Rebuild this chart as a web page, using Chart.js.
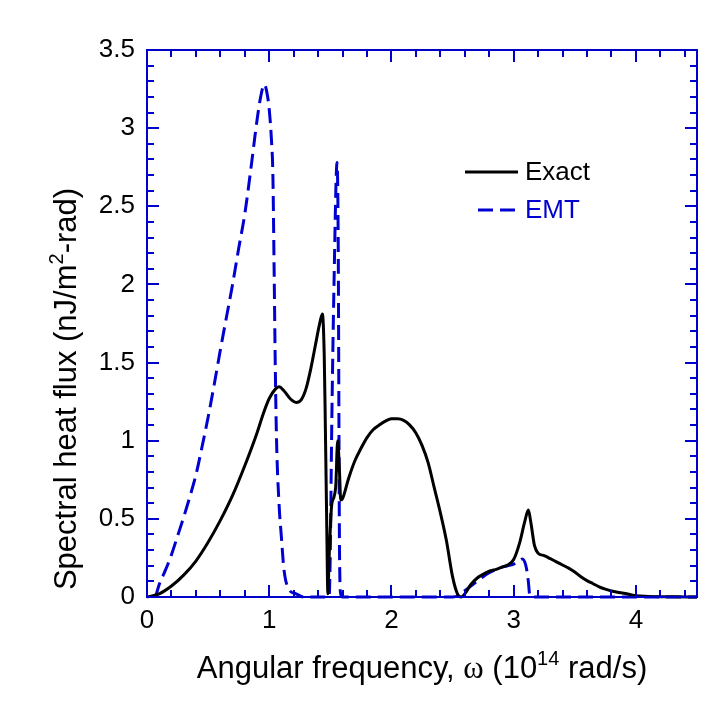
<!DOCTYPE html>
<html>
<head>
<meta charset="utf-8">
<script src="https://cdn.jsdelivr.net/npm/chart.js@4/dist/chart.umd.min.js"></script>
<style>
  html, body { margin: 0; padding: 0; background: #ffffff; }
  #wrap { width: 728px; height: 713px; }
</style>
</head>
<body>
<div id="wrap"><canvas id="c" width="728" height="713"></canvas></div>
<script>
// ---- Data ----
const seriesNames = ["Exact", "EMT"];

const exactX = [0, 0.1, 0.2, 0.3, 0.4, 0.5, 0.6, 0.7, 0.8, 0.9, 0.95, 1.0, 1.05, 1.08, 1.12, 1.17, 1.22, 1.26, 1.30, 1.34, 1.38, 1.41, 1.435, 1.45, 1.46, 1.47, 1.48, 1.49, 1.51, 1.53, 1.545, 1.56, 1.575, 1.585, 1.60, 1.65, 1.70, 1.75, 1.80, 1.85, 1.90, 1.95, 2.0, 2.05, 2.10, 2.15, 2.20, 2.25, 2.30, 2.35, 2.40, 2.45, 2.50, 2.54, 2.57, 2.60, 2.65, 2.70, 2.75, 2.80, 2.85, 2.90, 2.95, 3.00, 3.05, 3.09, 3.12, 3.14, 3.17, 3.20, 3.25, 3.30, 3.35, 3.40, 3.45, 3.50, 3.55, 3.60, 3.65, 3.70, 3.75, 3.80, 3.85, 3.90, 3.95, 4.00, 4.10, 4.20, 4.30, 4.50];
const exactY = [0, 0.02, 0.07, 0.14, 0.23, 0.35, 0.49, 0.65, 0.84, 1.05, 1.17, 1.27, 1.33, 1.345, 1.32, 1.27, 1.245, 1.26, 1.33, 1.46, 1.62, 1.74, 1.81, 1.55, 1.05, 0.5, 0.02, 0.25, 0.58, 0.64, 0.72, 1.0, 0.8, 0.62, 0.63, 0.76, 0.87, 0.95, 1.02, 1.07, 1.10, 1.125, 1.14, 1.14, 1.13, 1.10, 1.05, 0.97, 0.86, 0.70, 0.54, 0.36, 0.13, 0.02, 0.0, 0.02, 0.08, 0.12, 0.145, 0.165, 0.175, 0.19, 0.205, 0.24, 0.35, 0.48, 0.556, 0.48, 0.33, 0.28, 0.265, 0.245, 0.225, 0.205, 0.185, 0.16, 0.13, 0.105, 0.085, 0.065, 0.05, 0.038, 0.03, 0.024, 0.016, 0.008, 0.004, 0.002, 0.001, 0];

const emtX = [0.07, 0.10, 0.15, 0.20, 0.25, 0.30, 0.35, 0.40, 0.45, 0.50, 0.55, 0.60, 0.65, 0.70, 0.75, 0.80, 0.85, 0.90, 0.93, 0.96, 0.985, 1.00, 1.02, 1.03, 1.04, 1.05, 1.06, 1.08, 1.10, 1.12, 1.16, 1.22, 1.28, 1.49, 1.50, 1.51, 1.53, 1.555, 1.565, 1.57, 1.575, 1.585, 1.60, 2.50, 2.55, 2.60, 2.65, 2.70, 2.75, 2.80, 2.85, 2.90, 2.95, 3.00, 3.04, 3.07, 3.10, 3.12, 3.13, 3.15, 4.50];
const emtY = [0, 0.08, 0.17, 0.27, 0.39, 0.51, 0.64, 0.78, 0.96, 1.15, 1.36, 1.58, 1.79, 2.0, 2.23, 2.45, 2.74, 3.05, 3.2, 3.28, 3.21, 3.12, 2.9, 2.7, 2.1, 1.45, 1.0, 0.6, 0.38, 0.18, 0.05, 0.02, 0, 0, 0.3, 1.0, 2.0, 2.78, 2.2, 1.2, 0.3, 0.02, 0, 0, 0.01, 0.04, 0.07, 0.1, 0.13, 0.155, 0.175, 0.19, 0.2, 0.21, 0.23, 0.243, 0.2, 0.1, 0.02, 0, 0];

const xTickValues = [0, 1, 2, 3, 4];
const yTickValues = [0, 0.5, 1, 1.5, 2, 2.5, 3, 3.5];
const xRange = [0, 4.5];
const yRange = [0, 3.5];

// ---- Styles ----
const AXIS_BLUE = '#0000cc';
const EMT_BLUE = '#0000d0';
const SANS = '"Liberation Sans", Arial, sans-serif';

function toPoints(xs, ys) { return xs.map((x, i) => ({ x: x, y: ys[i] })); }

const frameTicks = {
  id: 'frameTicks',
  afterDatasetsDraw(chart) {
    const ctx = chart.ctx, a = chart.chartArea;
    const xs = chart.scales.x, ys = chart.scales.y;
    ctx.save();
    ctx.strokeStyle = AXIS_BLUE;
    ctx.lineWidth = 2;
    ctx.strokeRect(a.left, a.top, a.right - a.left, a.bottom - a.top);
    ctx.beginPath();
    for (let i = 0; i <= 22; i++) {
      const v = i * 0.2;
      const px = Math.round(xs.getPixelForValue(v));
      const len = (i % 5 === 0) ? 12 : 7;
      ctx.moveTo(px, a.bottom); ctx.lineTo(px, a.bottom - len);
      ctx.moveTo(px, a.top); ctx.lineTo(px, a.top + len);
    }
    for (let i = 0; i <= 35; i++) {
      const v = i * 0.1;
      const py = Math.round(ys.getPixelForValue(v));
      const len = (i % 5 === 0) ? 12 : 7;
      ctx.moveTo(a.left, py); ctx.lineTo(a.left + len, py);
      ctx.moveTo(a.right, py); ctx.lineTo(a.right - len, py);
    }
    ctx.stroke();
    ctx.restore();
  },
  afterDraw(chart) {
    const ctx = chart.ctx, a = chart.chartArea;
    const ds = chart.data.datasets;
    ctx.save();
    // Legend
    const lx0 = a.left + 318, lx1 = a.left + 371, tx = a.left + 378;
    const ly1 = a.top + 122, ly2 = a.top + 160;
    ctx.lineWidth = 3;
    ctx.strokeStyle = ds[0].borderColor;
    ctx.setLineDash([]);
    ctx.beginPath(); ctx.moveTo(lx0, ly1); ctx.lineTo(lx1, ly1); ctx.stroke();
    ctx.strokeStyle = ds[1].borderColor;
    ctx.setLineDash([15, 7]);
    ctx.beginPath(); ctx.moveTo(lx0 + 13, ly2); ctx.lineTo(lx1, ly2); ctx.stroke();
    ctx.setLineDash([]);
    ctx.font = '26px ' + SANS;
    ctx.textBaseline = 'middle';
    ctx.textAlign = 'left';
    ctx.fillStyle = '#000000';
    ctx.fillText(ds[0].label, tx, ly1 + 1);
    ctx.fillStyle = ds[1].borderColor;
    ctx.fillText(ds[1].label, tx, ly2 + 1);

    // X axis title
    ctx.fillStyle = '#000000';
    ctx.textBaseline = 'alphabetic';
    const big = '31px ' + SANS, sym = '31px "Liberation Serif", "DejaVu Serif", serif', sup = '20px ' + SANS;
    const parts = [
      { t: 'Angular frequency, ', f: big, dy: 0 },
      { t: '\u03C9', f: sym, dy: 0 },
      { t: ' (10', f: big, dy: 0 },
      { t: '14', f: sup, dy: -13 },
      { t: ' rad/s)', f: big, dy: 0 }
    ];
    let total = 0;
    parts.forEach(p => { ctx.font = p.f; p.w = ctx.measureText(p.t).width; total += p.w; });
    let x = (a.left + a.right) / 2 - total / 2;
    const by = 678;
    parts.forEach(p => { ctx.font = p.f; ctx.fillText(p.t, x, by + p.dy); x += p.w; });

    // Y axis title (rotated)
    const yparts = [
      { t: 'Spectral heat flux (nJ/m', f: big, dy: 0 },
      { t: '2', f: sup, dy: -13 },
      { t: '-rad)', f: big, dy: 0 }
    ];
    let ytot = 0;
    yparts.forEach(p => { ctx.font = p.f; p.w = ctx.measureText(p.t).width; ytot += p.w; });
    ctx.translate(76, 389);
    ctx.rotate(-Math.PI / 2);
    let yx = -ytot / 2;
    yparts.forEach(p => { ctx.font = p.f; ctx.fillText(p.t, yx, p.dy); yx += p.w; });
    ctx.restore();
  }
};

new Chart(document.getElementById('c'), {
  type: 'line',
  data: {
    datasets: [
      {
        label: seriesNames[0],
        data: toPoints(exactX, exactY),
        borderColor: '#000000',
        borderWidth: 3,
        pointRadius: 0,
        cubicInterpolationMode: 'monotone',
        fill: false,
        clip: 4
      },
      {
        label: seriesNames[1],
        data: toPoints(emtX, emtY),
        borderColor: EMT_BLUE,
        borderWidth: 3,
        borderDash: [15, 7],
        pointRadius: 0,
        cubicInterpolationMode: 'monotone',
        fill: false,
        clip: 4
      }
    ]
  },
  options: {
    responsive: false,
    animation: false,
    layout: { padding: { top: 50, right: 31, left: 0, bottom: 0 } },
    plugins: { legend: { display: false }, tooltip: { enabled: false } },
    scales: {
      x: {
        type: 'linear',
        min: xRange[0], max: xRange[1],
        grid: { display: false, drawTicks: false, tickLength: 0 },
        border: { display: false },
        afterBuildTicks: s => { s.ticks = xTickValues.map(v => ({ value: v })); },
        afterFit: s => { s.height = 116; },
        ticks: { color: '#000000', font: { family: SANS, size: 26 }, padding: 8, maxRotation: 0, callback: v => String(v) }
      },
      y: {
        type: 'linear',
        min: yRange[0], max: yRange[1],
        grid: { display: false, drawTicks: false, tickLength: 0 },
        border: { display: false },
        afterBuildTicks: s => { s.ticks = yTickValues.map(v => ({ value: v })); },
        afterFit: s => { s.width = 147; },
        ticks: { color: '#000000', font: { family: SANS, size: 26 }, padding: 12, callback: v => String(v) }
      }
    }
  },
  plugins: [frameTicks]
});
</script>
</body>
</html>
